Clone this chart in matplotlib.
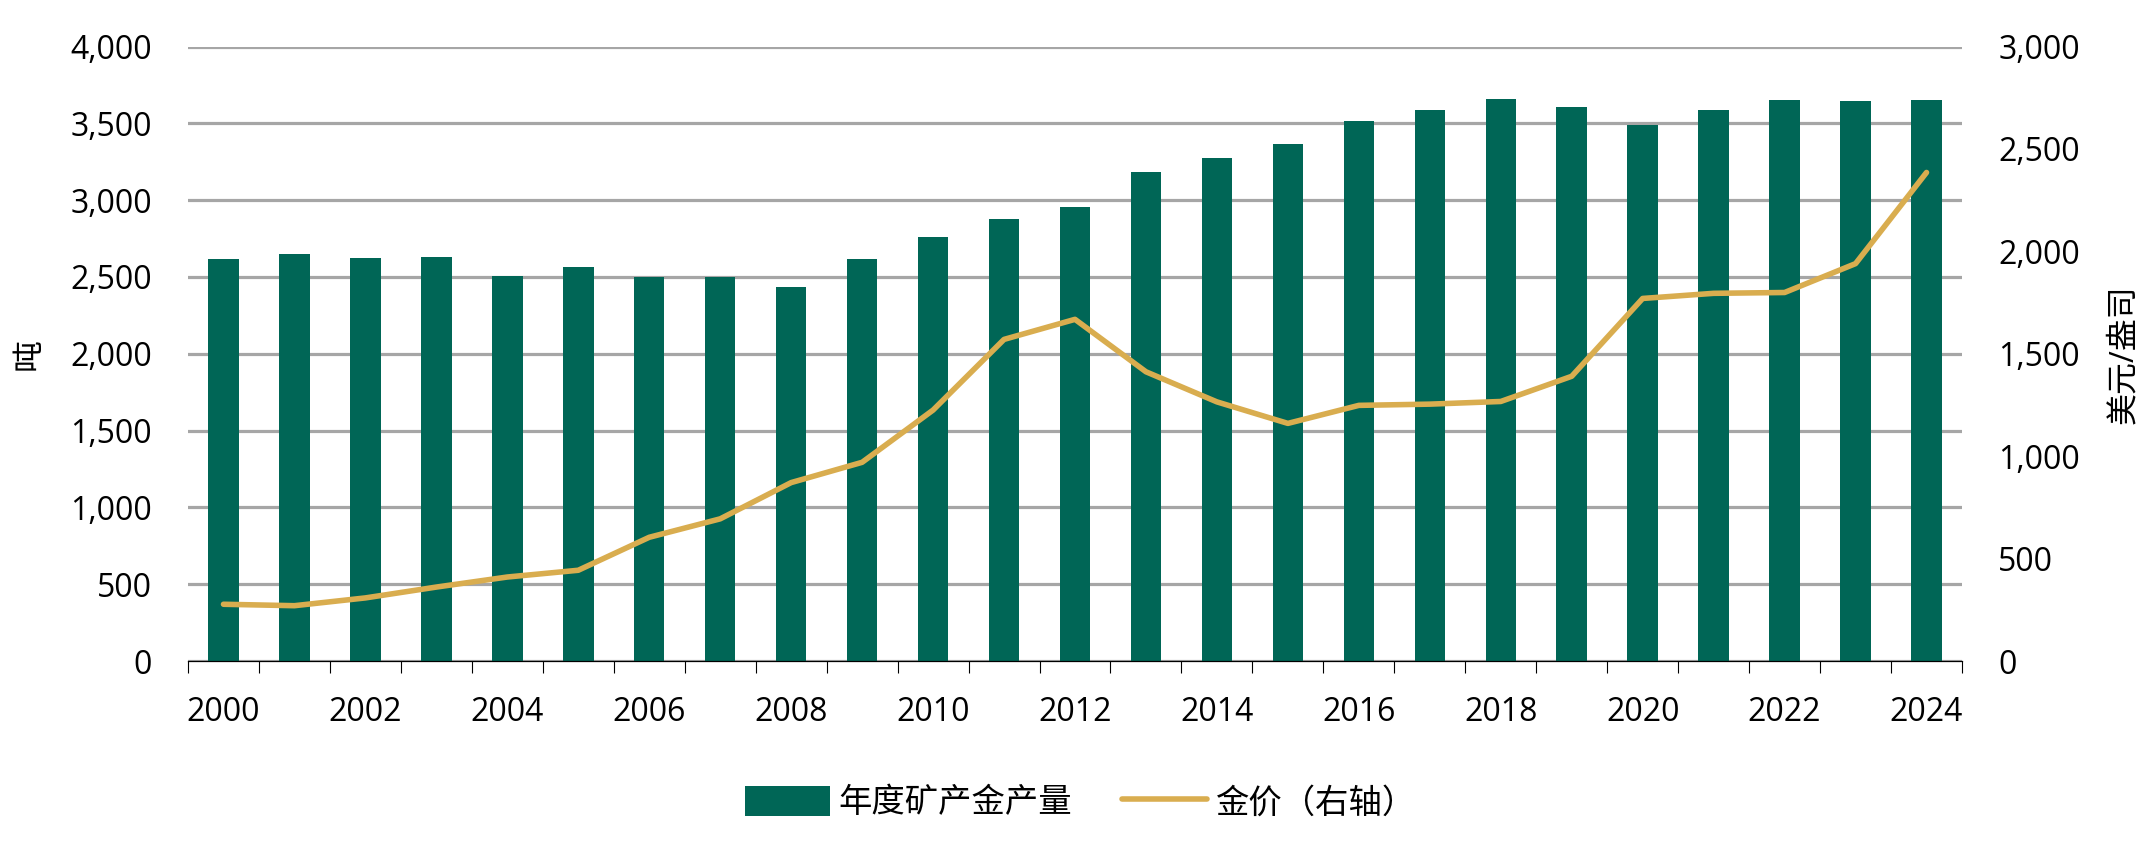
import matplotlib
matplotlib.use("Agg")
import matplotlib.pyplot as plt
import numpy as np
from matplotlib.ticker import FuncFormatter, MultipleLocator, FixedLocator

years = list(range(2000, 2025))
mine_production = [2620, 2650, 2625, 2630, 2505, 2565, 2500, 2500, 2435, 2618,
                   2758, 2880, 2957, 3180, 3276, 3368, 3517, 3585, 3660, 3607,
                   3489, 3585, 3650, 3643, 3650]
gold_price = [277, 270, 308, 361, 410, 443, 604, 694, 871, 970,
              1225, 1570, 1668, 1412, 1265, 1160, 1248, 1254, 1267, 1390,
              1770, 1795, 1799, 1940, 2385]
bar_label = "年度矿产金产量"
line_label = "金价（右轴）"
left_ylabel = "吨"
right_ylabel = "美元/盎司"

GREEN = "#006656"
GOLD = "#D9AD4F"
GRID = "#A6A6A6"
FONT = ["Open Sans", "Noto Sans CJK SC", "DejaVu Sans"]
plt.rcParams["font.family"] = FONT

fig = plt.figure(figsize=(21.56, 8.56), dpi=100)
ax = fig.add_axes([188 / 2156, 1 - 661 / 856, 1774 / 2156, 614.5 / 856])
ax2 = ax.twinx()

x = np.arange(len(years))
ax.bar(x, mine_production, width=0.43, color=GREEN, zorder=2, label=bar_label)
ax2.plot(x, gold_price, color=GOLD, lw=4.0, zorder=3, label=line_label,
         solid_joinstyle="round", solid_capstyle="round")

ax.set_xlim(-0.5, len(years) - 0.5)
ax.set_ylim(0, 4000)
ax2.set_ylim(0, 3000)
ax.yaxis.set_major_locator(MultipleLocator(500))
ax2.yaxis.set_major_locator(MultipleLocator(500))
fmt = FuncFormatter(lambda v, p: f"{int(v):,}")
ax.yaxis.set_major_formatter(fmt)
ax2.yaxis.set_major_formatter(fmt)

ax.grid(axis="y", color=GRID, lw=2.3, zorder=0)
ax.set_axisbelow(True)

# x ticks: labels at bar centres (every other year), tick marks at boundaries
ax.set_xticks(x[::2])
ax.set_xticklabels([str(y) for y in years[::2]])
ax.xaxis.set_minor_locator(FixedLocator(np.arange(-0.5, len(years), 1.0)))
ax.tick_params(axis="x", which="major", length=0, pad=25, labelsize=23)
ax.tick_params(axis="x", which="minor", length=8.6, width=0.8, color="black")
ax.tick_params(axis="y", length=0, pad=26, labelsize=23)
ax2.tick_params(axis="y", length=0, pad=26, labelsize=23)

for s in ["top", "left", "right"]:
    ax.spines[s].set_visible(False)
    ax2.spines[s].set_visible(False)
ax2.spines["bottom"].set_visible(False)
ax.spines["bottom"].set_color("black")
ax.spines["bottom"].set_linewidth(0.9)
ax.spines["bottom"].set_zorder(4)

ax.set_ylabel(left_ylabel, fontsize=23, rotation=90)
ax.yaxis.set_label_coords(-0.0800, 0.5)
ax2.set_ylabel(right_ylabel, fontsize=23, rotation=90)
ax2.yaxis.set_label_coords(1.0817, 0.5)

h1, l1 = ax.get_legend_handles_labels()
h2, l2 = ax2.get_legend_handles_labels()
fig.legend(h1 + h2, l1 + l2, loc="center", bbox_to_anchor=(1080 / 2156, 1 - 803 / 856),
           ncol=2, frameon=False, fontsize=24, handlelength=2.55, handleheight=1.0,
           handletextpad=0.25, columnspacing=1.5)

fig.savefig("out.png", dpi=100, facecolor="white")
